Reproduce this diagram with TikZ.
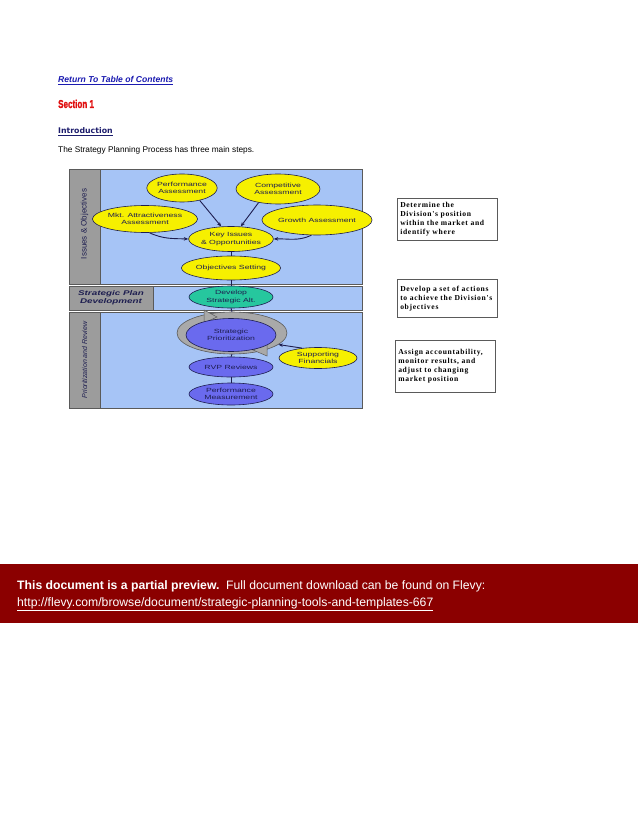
\documentclass[tikz,border=0pt]{standalone}
\usepackage{fontspec}
\usepackage{graphicx}
\setmainfont{Liberation Sans}
\newfontfamily\verdfont{DejaVu Sans}
\newfontfamily\boxfont[LetterSpace=9]{Liberation Serif}
\newfontfamily\widefont[FakeStretch=1.45]{Liberation Sans}
\newfontfamily\condfont[FakeStretch=0.7,BoldFeatures={FakeBold=1.5}]{Liberation Sans}
\usetikzlibrary{arrows.meta,positioning,shapes.geometric}
\definecolor{panelblue}{HTML}{A6C4F6}
\definecolor{labelgrey}{HTML}{9C9C9C}
\definecolor{edgegrey}{HTML}{5A5A5A}
\definecolor{ringgrey}{HTML}{A9A9A9}
\definecolor{bubbleyellow}{HTML}{F6F000}
\definecolor{bubbleteal}{HTML}{26C79E}
\definecolor{bubblepurple}{HTML}{6A6AEE}
\definecolor{inkblue}{HTML}{1E1E50}
\definecolor{linkblue}{HTML}{1A1AB0}
\definecolor{headred}{HTML}{E01010}
\definecolor{introblue}{HTML}{1C1C6C}
\definecolor{bannerred}{HTML}{8B0000}

\begin{document}
\begin{tikzpicture}[x=1pt,y=1pt,
    bubble/.style={ellipse,draw=inkblue,line width=0.6pt,inner sep=0pt,align=center,
                   text=inkblue,font=\widefont\fontsize{6}{7.5}\selectfont},
    panel/.style={fill=panelblue,draw=edgegrey,line width=0.6pt},
    sidebar/.style={fill=labelgrey,draw=edgegrey,line width=0.6pt},
    notebox/.style={draw=edgegrey,line width=0.5pt,anchor=north west,inner xsep=3pt,
                    inner ysep=4pt,align=left,text width=94pt,
                    font=\boxfont\bfseries\fontsize{7.6}{9}\selectfont},
    feed/.style={-{Stealth[length=4.5pt,width=3.5pt]},draw=inkblue,line width=0.9pt},
    link/.style={draw=inkblue,line width=0.9pt}]
  \useasboundingbox (0,0) rectangle (638,-826);

  % page header
  \node[anchor=base west,inner sep=0pt,text=linkblue,
        font=\bfseries\itshape\fontsize{8.6}{10}\selectfont] (toc) at (58,-83)
    {\underline{Return To Table of Contents}};
  \node[anchor=base west,inner sep=0pt,text=headred,
        font=\condfont\bfseries\fontsize{11.5}{13}\selectfont] (sect) at (58,-108)
    {Section 1};
  \node[anchor=base west,inner sep=0pt,text=introblue,
        font=\verdfont\bfseries\fontsize{7.8}{9}\selectfont] (intro) at (58,-134)
    {\underline{Introduction}};
  \node[anchor=base west,inner sep=0pt,font=\fontsize{8.3}{9}\selectfont] (lead) at (58,-153)
    {The Strategy Planning Process has three main steps.};

  % panels
  \draw[sidebar] (69,-169) rectangle (100,-284);
  \draw[panel] (100,-169) rectangle (362,-284);
  \draw[sidebar] (69,-286) rectangle (153,-310);
  \draw[panel] (153,-286) rectangle (362,-310);
  \draw[sidebar] (69,-312) rectangle (100,-408);
  \draw[panel] (100,-312) rectangle (362,-408);

  \node[rotate=90,text=inkblue,font=\fontsize{8}{9}\selectfont] (issuelbl) at (84.5,-224)
    {Issues \& Objectives};
  \node[align=center,text=inkblue,inner sep=0pt,
        font=\widefont\bfseries\itshape\fontsize{6.8}{8}\selectfont] (planlbl) at (111,-298)
    {Strategic Plan\\Development};
  \node[rotate=90,text=inkblue,font=\itshape\fontsize{7}{8}\selectfont] (priolbl) at (84.5,-360)
    {Prioritization and Review};

  % issues & objectives
  \node[bubble,fill=bubbleyellow,minimum width=66pt,minimum height=28pt] (perf) at (182,-188)
    {Performance\\Assessment};
  \node[bubble,fill=bubbleyellow,minimum width=84pt,minimum height=30pt] (comp) at (278,-189)
    {Competitive\\Assessment};
  \node[bubble,fill=bubbleyellow,minimum width=84pt,minimum height=27pt] (mkt) at (145,-219)
    {Mkt. Attractiveness\\Assessment};
  \node[bubble,fill=bubbleyellow,minimum width=86pt,minimum height=30pt] (growth) at (317,-220)
    {Growth Assessment};
  \node[bubble,fill=bubbleyellow,minimum width=84pt,minimum height=25pt] (keyiss) at (231,-239)
    {Key Issues\\\& Opportunities};
  \node[bubble,fill=bubbleyellow,minimum width=80pt,minimum height=24pt] (objset) at (231,-268)
    {Objectives Setting};

  % plan development
  \node[bubble,fill=bubbleteal,minimum width=84pt,minimum height=22pt] (devalt) at (231,-297)
    {Develop\\Strategic Alt.};

  % prioritization & review
  \node[ellipse,fill=ringgrey,draw=edgegrey,line width=0.6pt,minimum width=110pt,
        minimum height=42pt] (ring) at (232,-333) {};
  \filldraw[fill=ringgrey,draw=edgegrey,line width=0.5pt]
    (204,-310) -- (217,-317) -- (204,-323) -- cycle;
  \filldraw[fill=ringgrey,draw=edgegrey,line width=0.5pt]
    (267,-344) -- (253,-350) -- (267,-356) -- cycle;
  \node[bubble,fill=bubblepurple,minimum width=90pt,minimum height=33pt] (prio) at (231,-335)
    {Strategic\\Prioritization};
  \node[bubble,fill=bubblepurple,minimum width=84pt,minimum height=20pt] (rvp) at (231,-367)
    {RVP Reviews};
  \node[bubble,fill=bubblepurple,minimum width=84pt,minimum height=22pt] (perfm) at (231,-394)
    {Performance\\Measurement};
  \node[bubble,fill=bubbleyellow,minimum width=78pt,minimum height=21pt] (suppfin) at (318,-358)
    {Supporting\\Financials};

  \draw[feed] (perf.-35) -- (keyiss.128);
  \draw[feed] (comp.-145) -- (keyiss.52);
  \draw[feed] (mkt.-72) to[out=-25,in=178] (keyiss.west);
  \draw[feed] (growth.-110) to[out=-155,in=2] (keyiss.east);
  \draw[link] (keyiss.south) -- (objset.north);
  \draw[link] (objset.south) -- (devalt.north);
  \draw[link] (devalt.south) -- (ring.north);
  \draw[link] (ring.south) -- (rvp.north);
  \draw[link] (rvp.south) -- (perfm.north);
  \draw[feed] (suppfin.148) -- (ring.-14);

  % step notes
  \node[notebox,minimum width=100pt,minimum height=41pt] (note1) at (397,-198)
    {Determine the\\Division's position\\within the market and\\identify where};
  \node[notebox,minimum width=100pt,minimum height=38pt] (note2) at (397,-279)
    {Develop a set of actions\\to achieve the Division's\\objectives};
  \node[notebox,minimum width=100pt,minimum height=52pt] (note3) at (395,-340)
    {Assign accountability,\\monitor results, and\\adjust to changing\\market position};

  % preview banner
  \fill[bannerred] (0,-564) rectangle (638,-623);
  \node[anchor=base west,inner sep=0pt,text=white,font=\fontsize{12.2}{14}\selectfont]
    (bannertop) at (17,-589)
    {\textbf{This document is a partial preview.}\ \ Full document download can be found on Flevy:};
  \node[anchor=base west,inner sep=0pt,text=white,font=\fontsize{12.2}{14}\selectfont]
    (bannerurl) at (17,-606)
    {\underline{http://flevy.com/browse/document/strategic-planning-tools-and-templates-667}};
\end{tikzpicture}
\end{document}
